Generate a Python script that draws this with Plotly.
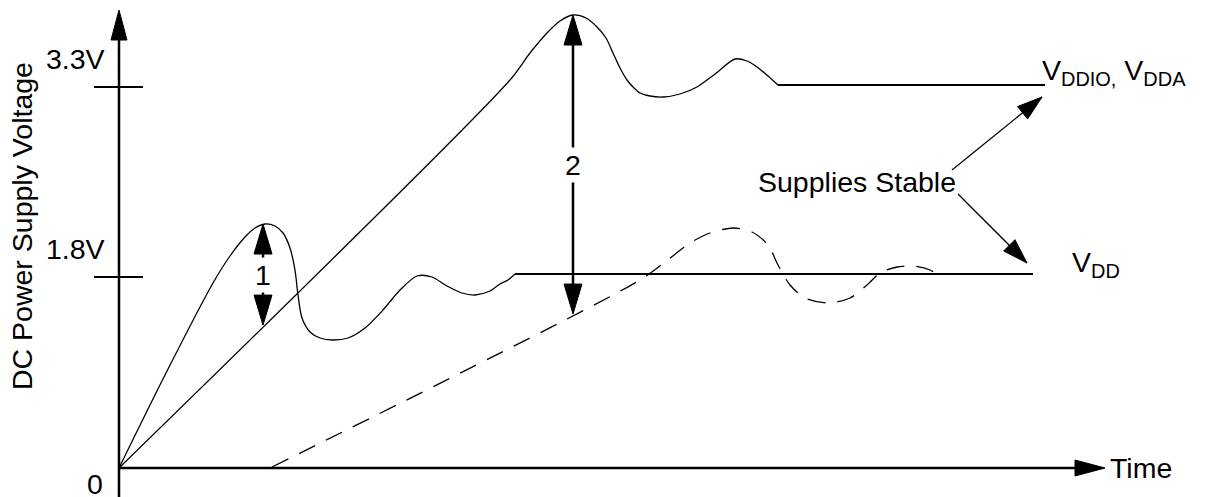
import numpy as np
import plotly.graph_objects as go

# time / level units: 1 unit = 1 px of the diagram, origin at the axes corner
vddio_t = [0, 391, 411, 428, 441, 454, 467, 478, 487, 494, 501, 508, 515, 521, 531, 544,
           561, 578, 596, 616, 628, 638, 649, 659, 926]
vddio_v = [0, 388, 415, 435, 447, 453, 450, 441, 430, 415, 400, 388, 380, 375, 372, 371,
           374, 381, 394, 409, 407, 401, 392, 383, 383]

vdd_t = [0, 46, 94, 111, 126, 136, 146, 156, 164, 171, 176, 179, 183, 191, 201, 214, 229,
         246, 264, 281, 298, 313, 328, 343, 356, 371, 381, 389, 396, 914]
vdd_v = [0, 93, 185, 212, 231, 240, 244, 242, 235, 220, 198, 173, 150, 136, 130, 128, 130,
         140, 158, 178, 192, 191, 182, 175, 173, 177, 184, 188, 194, 194]

vdd_late_t = [153, 521, 546, 571, 591, 614, 633, 649, 659, 671, 686, 709, 731, 748, 761,
              778, 794, 811, 824]
vdd_late_v = [1, 188, 206, 225, 235, 240, 236, 223, 203, 183, 170, 165, 170, 183, 195,
              201, 202, 198, 190]

tick_levels = [191, 381]
tick_labels = ["1.8V", "3.3V"]

FONT = "Liberation Sans, Arial, sans-serif"
FS = 28.5

fig = go.Figure()


def line(x, y, width=2, dash=None, shape="linear"):
    fig.add_trace(go.Scatter(x=x, y=y, mode="lines", hoverinfo="skip",
                             line=dict(color="black", width=width, dash=dash,
                                       shape=shape, smoothing=0.8)))


def head(tip, frm, length=30, half=9):
    tip = np.array(tip, float)
    d = tip - np.array(frm, float)
    d /= np.linalg.norm(d)
    p = np.array([-d[1], d[0]])
    base = tip - length * d
    pts = [tip, base + half * p, base - half * p, tip]
    fig.add_trace(go.Scatter(x=[q[0] for q in pts], y=[q[1] for q in pts], mode="lines",
                             fill="toself", fillcolor="black", hoverinfo="skip",
                             line=dict(color="black", width=1)))


def text(x, y, s, **kw):
    fig.add_annotation(x=x, y=y, text=s, showarrow=False,
                       font=dict(size=FS, family=FONT, color="black"), **kw)


# curves: wiggles as splines, settled tails as straight lines
line(vddio_t[:-1], vddio_v[:-1], width=1.3, shape="spline")
line(vddio_t[-2:], vddio_v[-2:], width=2)
line(vdd_t[:-1], vdd_v[:-1], width=1.3, shape="spline")
line(vdd_t[-2:], vdd_v[-2:], width=2)
line(vdd_late_t, vdd_late_v, width=1.3, dash="18px,12px", shape="spline")

# axes
y_top = 458
x_end = 986
line([0, 0], [-29, y_top - 20], width=2.5)
head((0, y_top), (0, 0), length=30, half=8)
line([0, x_end - 20], [0, 0], width=2.5)
head((x_end, 0), (0, 0), length=30, half=8)

# tick marks and labels
for lv, lab in zip(tick_levels, tick_labels):
    line([-25, 24], [lv, lv], width=2)
    text(-12, lv + 28, lab, xanchor="right", yanchor="middle")
text(-24, -16, "0")
text(-97, 242, "DC Power Supply Voltage", textangle=-90)
text(x_end + 3, 0, "Time", xanchor="left")

# measurement arrow 1: VDD overshoot above the VDDIO ramp
i1 = vdd_v.index(max(vdd_v[:15]))
t1 = vdd_t[i1] - 2
top1 = vdd_v[i1]
bot1 = np.interp(t1, vddio_t[:2], vddio_v[:2])
line([t1, t1], [bot1 + 20, top1 - 20], width=2.5)
head((t1, top1), (t1, bot1))
head((t1, bot1), (t1, top1))
text(t1, (top1 + bot1) / 2, "1", bgcolor="white")

# measurement arrow 2: VDDIO peak above the delayed VDD ramp
i2 = vddio_v.index(max(vddio_v))
t2 = vddio_t[i2]
top2 = vddio_v[i2]
bot2 = np.interp(t2, vdd_late_t[:2], vdd_late_v[:2])
line([t2, t2], [bot2 + 20, top2 - 20], width=2.5)
head((t2, top2), (t2, bot2))
head((t2, bot2), (t2, top2))
text(t2, (top2 + bot2) / 2, "2", bgcolor="white")

# "Supplies Stable" pointers
text(738, 286, "Supplies Stable")
for frm, tip in [((833, 298), (923, 371)), ((839, 274), (908, 205))]:
    line([frm[0], tip[0]], [frm[1], tip[1]], width=1.3)
    head(tip, frm, length=25, half=8)

text(921, 396, "V<sub>DDIO,</sub> V<sub>DDA</sub>", xanchor="left")
text(951, 204, "V<sub>DD</sub>", xanchor="left")

# the page body adds an 8 px margin, so the figure is 8 px smaller and ranges shifted
fig.update_layout(
    width=1198, height=489,
    margin=dict(l=0, r=0, t=0, b=0),
    showlegend=False,
    plot_bgcolor="white", paper_bgcolor="white",
    xaxis=dict(range=[-111, 1087], visible=False, fixedrange=True),
    yaxis=dict(range=[-29, 460], visible=False, fixedrange=True),
)

fig.write_html("out.html")
